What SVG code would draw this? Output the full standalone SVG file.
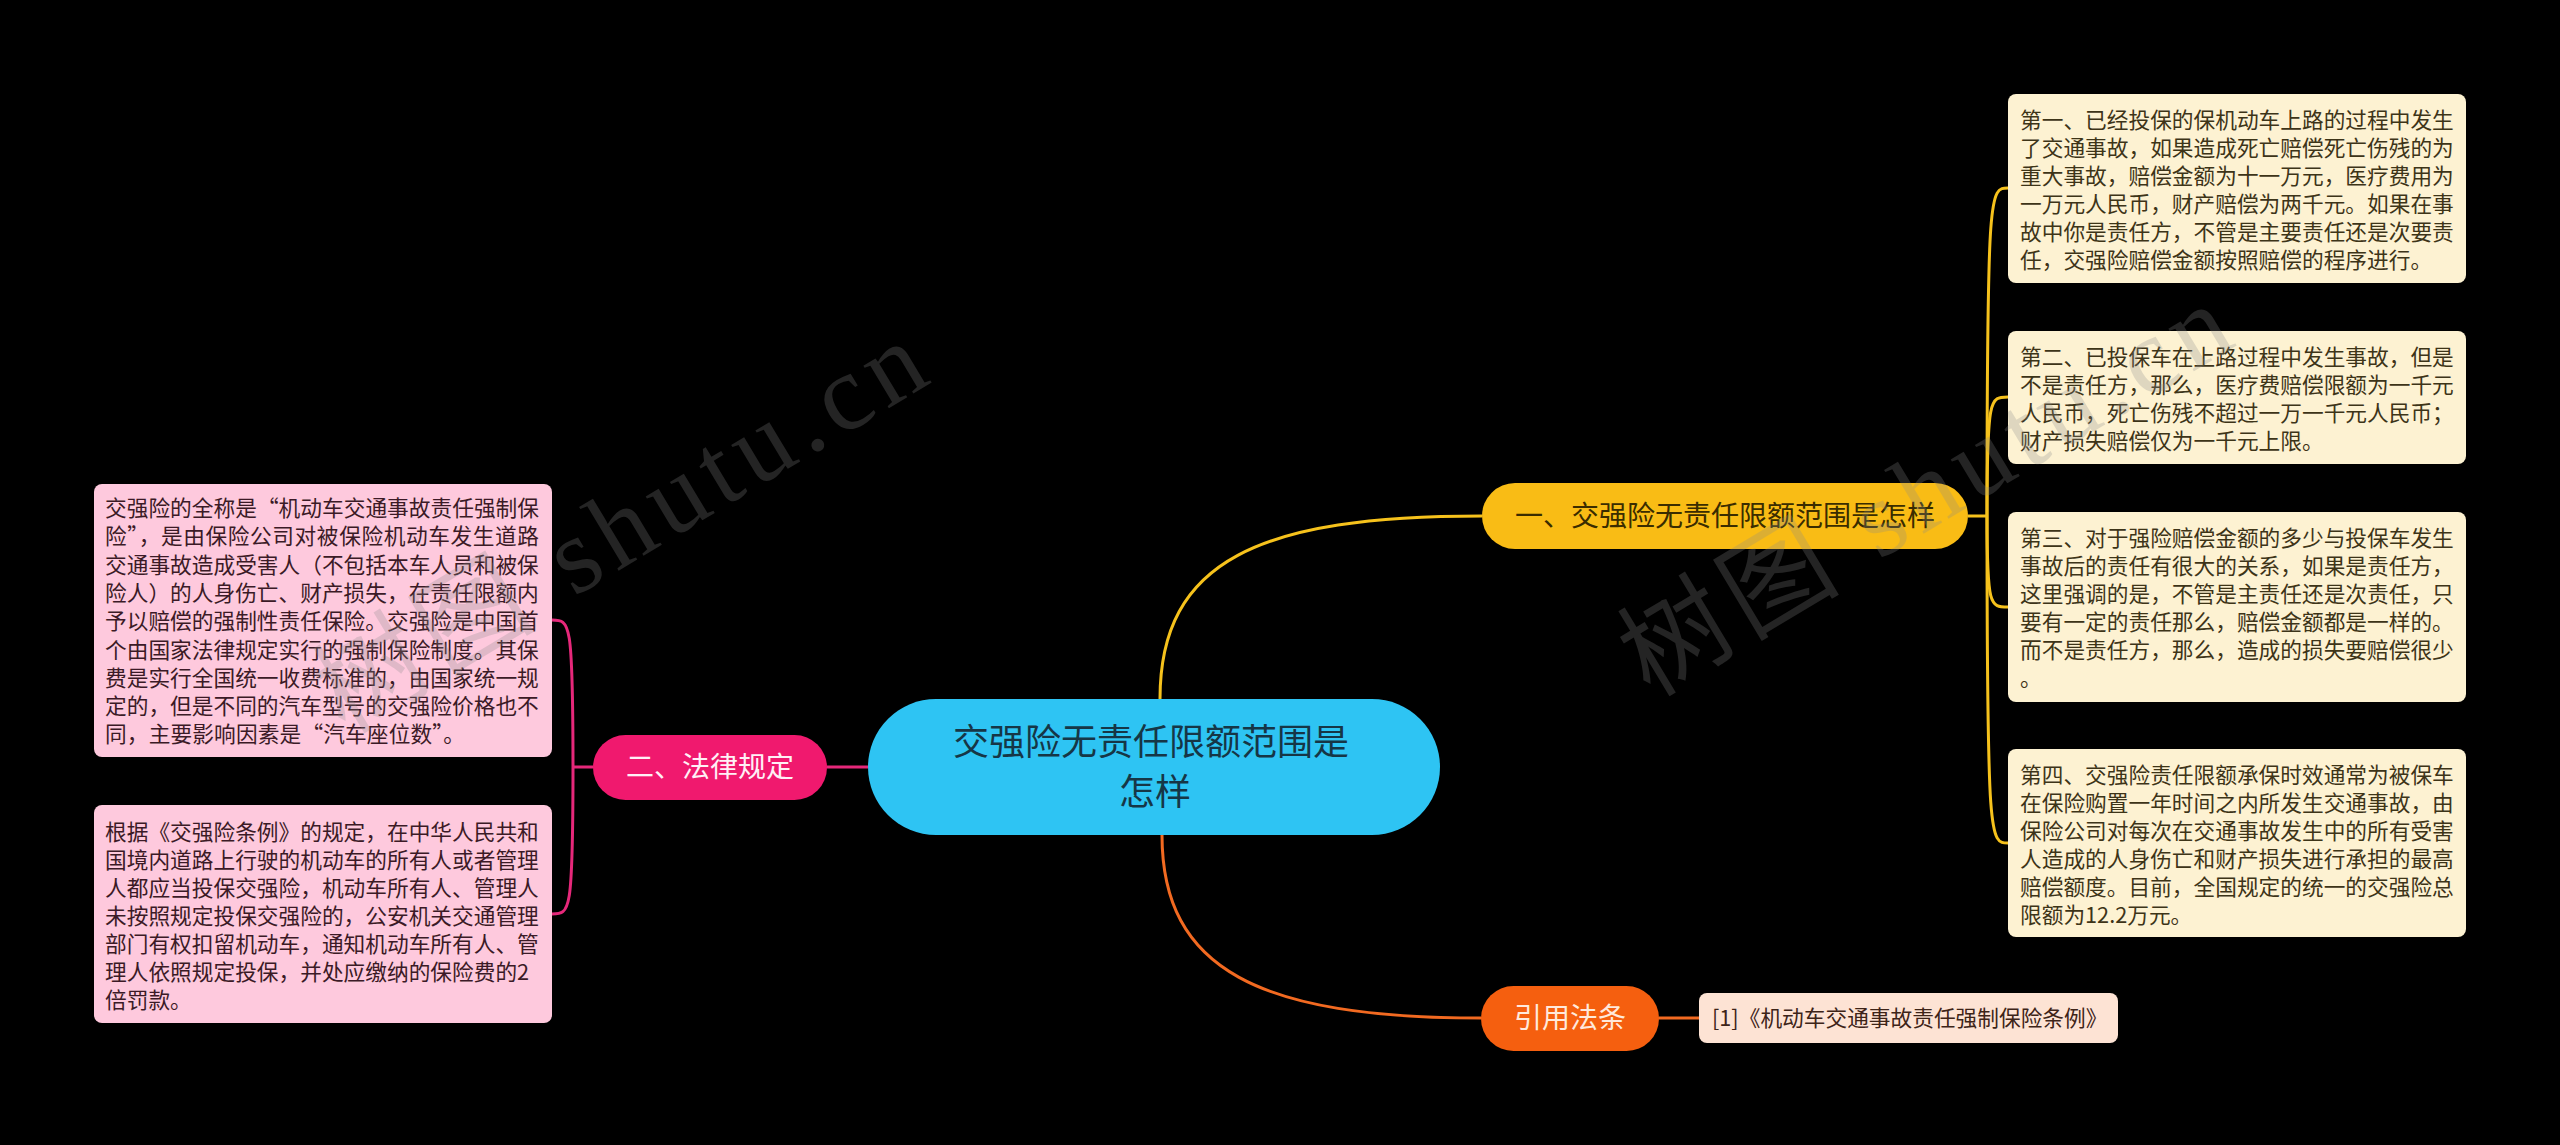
<svg xmlns="http://www.w3.org/2000/svg" width="2560" height="1145" viewBox="0 0 2560 1145">
<style>
  .cjk { font-family: 'Noto Sans CJK SC', 'Noto Sans', sans-serif; }
  .detailY { fill: #fdf2d2; }
  .detailP { fill: #fec9dd; }
  .txtY { font-size: 21.7px; fill: #3d3418; }
  .txtP { font-size: 21.7px; fill: #3b1a26; }
  .link { fill: none; stroke-width: 3; }
  .wm { font-size: 108px; letter-spacing: 8px; fill: #8a8a8a; opacity: 0.26; font-family: 'Liberation Serif', 'Noto Sans CJK SC', serif; }
</style>
<rect width="2560" height="1145" fill="#000000"/>

<g id="connectors">
  <path class="link" stroke="#f6c21c" d="M1160,699 C1160,560 1260,516 1482,516"/>
  <path class="link" stroke="#f6c21c" d="M1968,516 H1987"/>
  <path class="link" stroke="#f6c21c" d="M1987,516 C1987,188 1990,188 2008,188"/>
  <path class="link" stroke="#f6c21c" d="M1987,516 C1987,397 1990,397 2008,397"/>
  <path class="link" stroke="#f6c21c" d="M1987,516 C1987,607 1990,607 2008,607"/>
  <path class="link" stroke="#f6c21c" d="M1987,516 C1987,843 1990,843 2008,843"/>
  <path class="link" stroke="#f26a21" d="M1162,835 C1162,970 1260,1018 1481,1018"/>
  <path class="link" stroke="#f26a21" d="M1659,1018 H1699"/>
  <path class="link" stroke="#e6287a" d="M868,767 H827"/>
  <path class="link" stroke="#e6287a" d="M593,767 H573"/>
  <path class="link" stroke="#e6287a" d="M573,767 C573,620 570,620 552,620"/>
  <path class="link" stroke="#e6287a" d="M573,767 C573,914 570,914 552,914"/>
</g>

<g id="root">
  <rect x="868" y="699" width="572" height="136" rx="68" fill="#2ec4f3"/>
  <text class="cjk" font-size="36" fill="#163646" text-anchor="middle">
    <tspan x="1155" y="755">交强险无责任限额范围是</tspan>
    <tspan x="1155" y="805">怎样</tspan>
  </text>
</g>

<g id="branch1">
  <rect x="1482" y="483" width="486" height="66" rx="33" fill="#f9bc15"/>
  <text class="cjk" font-size="28" fill="#3a2c00" text-anchor="middle" x="1725" y="526">一、交强险无责任限额范围是怎样</text>
</g>

<g id="detail1">
  <rect class="detailY" x="2008" y="94" width="458" height="189" rx="8"/>
  <text class="cjk txtY">
    <tspan x="2020" y="128">第一、已经投保的保机动车上路的过程中发生</tspan>
    <tspan x="2020" y="156">了交通事故，如果造成死亡赔偿死亡伤残的为</tspan>
    <tspan x="2020" y="184">重大事故，赔偿金额为十一万元，医疗费用为</tspan>
    <tspan x="2020" y="212">一万元人民币，财产赔偿为两千元。如果在事</tspan>
    <tspan x="2020" y="240">故中你是责任方，不管是主要责任还是次要责</tspan>
    <tspan x="2020" y="268">任，交强险赔偿金额按照赔偿的程序进行。</tspan>
  </text>
</g>

<g id="detail2">
  <rect class="detailY" x="2008" y="331" width="458" height="133" rx="8"/>
  <text class="cjk txtY">
    <tspan x="2020" y="365">第二、已投保车在上路过程中发生事故，但是</tspan>
    <tspan x="2020" y="393">不是责任方，那么，医疗费赔偿限额为一千元</tspan>
    <tspan x="2020" y="421">人民币，死亡伤残不超过一万一千元人民币；</tspan>
    <tspan x="2020" y="449">财产损失赔偿仅为一千元上限。</tspan>
  </text>
</g>

<g id="detail3">
  <rect class="detailY" x="2008" y="512" width="458" height="190" rx="8"/>
  <text class="cjk txtY">
    <tspan x="2020" y="546">第三、对于强险赔偿金额的多少与投保车发生</tspan>
    <tspan x="2020" y="574">事故后的责任有很大的关系，如果是责任方，</tspan>
    <tspan x="2020" y="602">这里强调的是，不管是主责任还是次责任，只</tspan>
    <tspan x="2020" y="630">要有一定的责任那么，赔偿金额都是一样的。</tspan>
    <tspan x="2020" y="658">而不是责任方，那么，造成的损失要赔偿很少</tspan>
    <tspan x="2020" y="686">。</tspan>
  </text>
</g>

<g id="detail4">
  <rect class="detailY" x="2008" y="749" width="458" height="188" rx="8"/>
  <text class="cjk txtY">
    <tspan x="2020" y="783">第四、交强险责任限额承保时效通常为被保车</tspan>
    <tspan x="2020" y="811">在保险购置一年时间之内所发生交通事故，由</tspan>
    <tspan x="2020" y="839">保险公司对每次在交通事故发生中的所有受害</tspan>
    <tspan x="2020" y="867">人造成的人身伤亡和财产损失进行承担的最高</tspan>
    <tspan x="2020" y="895">赔偿额度。目前，全国规定的统一的交强险总</tspan>
    <tspan x="2020" y="923">限额为12.2万元。</tspan>
  </text>
</g>

<g id="branch2">
  <rect x="593" y="735" width="234" height="65" rx="32.5" fill="#f0196e"/>
  <text class="cjk" font-size="28" fill="#fff0f6" text-anchor="middle" x="710" y="777">二、法律规定</text>
</g>

<g id="detail5">
  <rect class="detailP" x="94" y="484" width="458" height="273" rx="8"/>
  <text class="cjk txtP" x="105" y="516" textLength="434" lengthAdjust="spacing">交强险的全称是“机动车交通事故责任强制保</text>
  <text class="cjk txtP" x="105" y="544.3" textLength="434" lengthAdjust="spacing">险”，是由保险公司对被保险机动车发生道路</text>
  <text class="cjk txtP">
    <tspan x="105" y="572.6">交通事故造成受害人（不包括本车人员和被保</tspan>
    <tspan x="105" y="600.9">险人）的人身伤亡、财产损失，在责任限额内</tspan>
    <tspan x="105" y="629.2">予以赔偿的强制性责任保险。交强险是中国首</tspan>
    <tspan x="105" y="657.5">个由国家法律规定实行的强制保险制度。其保</tspan>
    <tspan x="105" y="685.8">费是实行全国统一收费标准的，由国家统一规</tspan>
    <tspan x="105" y="714.1">定的，但是不同的汽车型号的交强险价格也不</tspan>
  </text>
  <text class="cjk txtP" x="105" y="742.4" textLength="360" lengthAdjust="spacing">同，主要影响因素是“汽车座位数”。</text>
</g>

<g id="detail6">
  <rect class="detailP" x="94" y="805" width="458" height="218" rx="8"/>
  <text class="cjk txtP">
    <tspan x="105" y="840">根据《交强险条例》的规定，在中华人民共和</tspan>
    <tspan x="105" y="868">国境内道路上行驶的机动车的所有人或者管理</tspan>
    <tspan x="105" y="896">人都应当投保交强险，机动车所有人、管理人</tspan>
    <tspan x="105" y="924">未按照规定投保交强险的，公安机关交通管理</tspan>
    <tspan x="105" y="952">部门有权扣留机动车，通知机动车所有人、管</tspan>
    <tspan x="105" y="980">理人依照规定投保，并处应缴纳的保险费的2</tspan>
    <tspan x="105" y="1008">倍罚款。</tspan>
  </text>
</g>

<g id="branch3">
  <rect x="1481" y="986" width="178" height="65" rx="32.5" fill="#f55f0f"/>
  <text class="cjk" font-size="28" fill="#ffe9dc" text-anchor="middle" x="1570" y="1028">引用法条</text>
</g>

<g id="detail7">
  <rect x="1699" y="993" width="419" height="50" rx="8" fill="#fde3d4"/>
  <text class="cjk" font-size="21.7" fill="#3d2418" x="1712" y="1026">[1]《机动车交通事故责任强制保险条例》</text>
</g>

<g id="watermarks">
  <text class="wm" transform="translate(345,735) rotate(-31)">树图 shutu.cn</text>
  <text class="wm" transform="translate(1650,698) rotate(-31)">树图 shutu.cn</text>
</g>
</svg>
